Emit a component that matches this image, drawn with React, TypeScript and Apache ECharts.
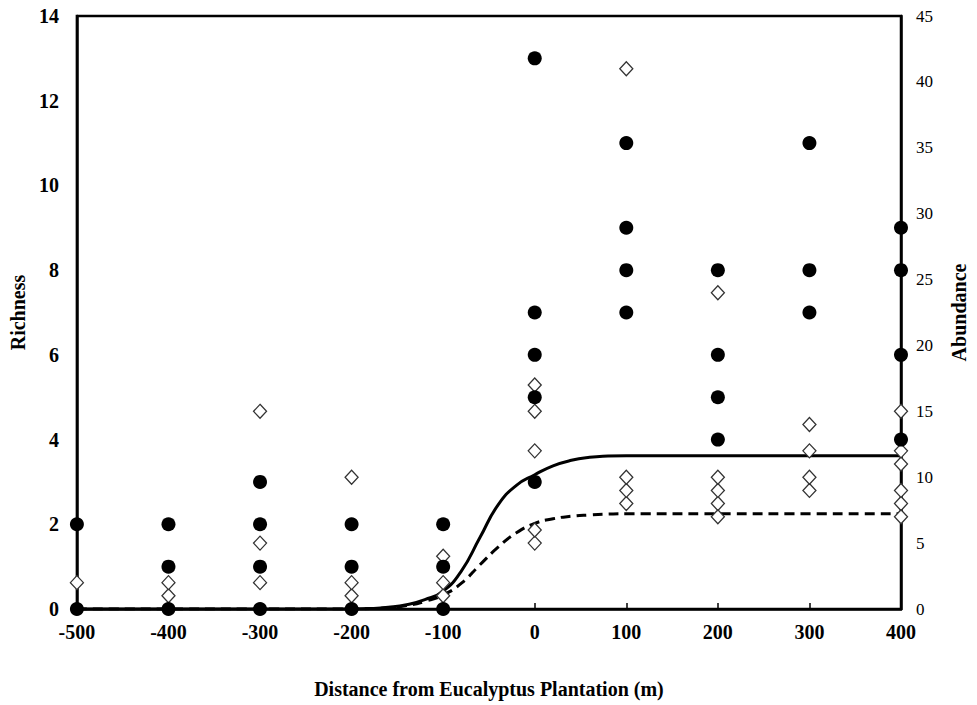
import React, { useEffect, useRef } from "react";
import * as echarts from "echarts";

const distances = [-500, -400, -300, -200, -100, 0, 100, 200, 300, 400];
const richnessByDistance = [
  [0, 2],
  [0, 1, 2],
  [0, 1, 2, 3],
  [0, 1, 2],
  [0, 1, 2],
  [3, 5, 6, 7, 13],
  [7, 8, 9, 11],
  [4, 5, 6, 8],
  [7, 8, 11],
  [4, 6, 8, 9],
];
const abundanceByDistance = [
  [2],
  [1, 2],
  [2, 5, 15],
  [1, 2, 10],
  [1, 2, 4],
  [5, 6, 12, 15, 17],
  [8, 9, 10, 41],
  [7, 8, 9, 10, 24],
  [9, 10, 12, 14],
  [7, 8, 9, 11, 12, 15],
];
const curveX = [-500, -400, -300, -200, -180, -160, -140, -120, -100, -80, -60, -40, -20, 0, 20, 40, 60, 80, 100, 200, 300, 400];
const solidCurve = [0, 0, 0, 0, 0.01, 0.04, 0.1, 0.22, 0.42, 0.9, 1.68, 2.46, 2.92, 3.17, 3.38, 3.51, 3.58, 3.61, 3.62, 3.62, 3.62, 3.62];
const dashedCurve = [0, 0, 0, 0, 0.01, 0.03, 0.08, 0.18, 0.33, 0.61, 1.04, 1.46, 1.8, 2.02, 2.13, 2.19, 2.22, 2.24, 2.25, 2.25, 2.25, 2.25];

const FONT = "'Liberation Serif', 'Times New Roman', serif";

export default function App() {
  const ref = useRef<HTMLDivElement>(null);
  useEffect(() => {
    document.body.style.margin = "0";
    document.body.style.overflow = "hidden";
    if (!ref.current) return;
    const chart = echarts.init(ref.current, null, { renderer: "svg" });
    const richPts: number[][] = [];
    distances.forEach((d, i) => richnessByDistance[i].forEach((v) => richPts.push([d, v])));
    const abPts: number[][] = [];
    distances.forEach((d, i) => abundanceByDistance[i].forEach((v) => abPts.push([d, v])));
    chart.setOption({
      animation: false,
      backgroundColor: "#fff",
      grid: {
        left: 75,
        right: 69,
        top: 16,
        bottom: 96,
        show: true,
        borderColor: "#000",
        borderWidth: 2.5,
      },
      xAxis: {
        type: "value",
        min: -500,
        max: 400,
        interval: 100,
        name: "Distance from Eucalyptus Plantation (m)",
        nameLocation: "middle",
        nameGap: 70,
        nameTextStyle: { fontFamily: FONT, fontWeight: "bold", fontSize: 20, color: "#000" },
        axisLine: { onZero: false, lineStyle: { color: "#000", width: 2.5 } },
        axisTick: { inside: true, length: 6, lineStyle: { color: "#000", width: 1.5 } },
        axisLabel: { fontFamily: FONT, fontWeight: "bold", fontSize: 20, color: "#000", margin: 13 },
        splitLine: { show: false },
      },
      yAxis: [
        {
          type: "value",
          min: 0,
          max: 14,
          interval: 2,
          name: "Richness",
          nameLocation: "middle",
          nameGap: 46,
          nameTextStyle: { fontFamily: FONT, fontWeight: "bold", fontSize: 20, color: "#000" },
          axisLine: { show: true, onZero: false, lineStyle: { color: "#000", width: 2.5 } },
          axisTick: { show: false },
          axisLabel: { fontFamily: FONT, fontWeight: "bold", fontSize: 20, color: "#000", margin: 18 },
          splitLine: { show: false },
        },
        {
          type: "value",
          min: 0,
          max: 45,
          interval: 5,
          name: "Abundance",
          nameLocation: "middle",
          nameGap: 48,
          nameRotate: 90,
          nameTextStyle: { fontFamily: FONT, fontWeight: "bold", fontSize: 20, color: "#000" },
          axisLine: { show: true, onZero: false, lineStyle: { color: "#000", width: 2.5 } },
          axisTick: { show: false },
          axisLabel: { fontFamily: FONT, fontSize: 17, color: "#000", margin: 15 },
          splitLine: { show: false },
        },
      ],
      series: [
        {
          type: "line",
          name: "Richness fit",
          yAxisIndex: 0,
          data: curveX.map((x, i) => [x, solidCurve[i]]),
          smooth: 0.5,
          showSymbol: false,
          symbol: "none",
          lineStyle: { color: "#000", width: 3 },
          z: 2,
        },
        {
          type: "line",
          name: "Abundance fit",
          yAxisIndex: 0,
          data: curveX.map((x, i) => [x, dashedCurve[i]]),
          smooth: 0.5,
          showSymbol: false,
          symbol: "none",
          lineStyle: { color: "#000", width: 3, type: [10, 6] },
          z: 2,
        },
        {
          type: "scatter",
          name: "Abundance",
          yAxisIndex: 1,
          data: abPts,
          symbol: "diamond",
          symbolSize: [13, 14],
          itemStyle: { color: "#fff", borderColor: "#333", borderWidth: 1.3, opacity: 1 },
          z: 3,
        },
        {
          type: "scatter",
          name: "Richness",
          yAxisIndex: 0,
          data: richPts,
          symbol: "circle",
          symbolSize: 14,
          itemStyle: { color: "#000", opacity: 1 },
          z: 4,
        },
      ],
    });
    return () => chart.dispose();
  }, []);
  return <div ref={ref} style={{ width: 977, height: 705 }} />;
}
